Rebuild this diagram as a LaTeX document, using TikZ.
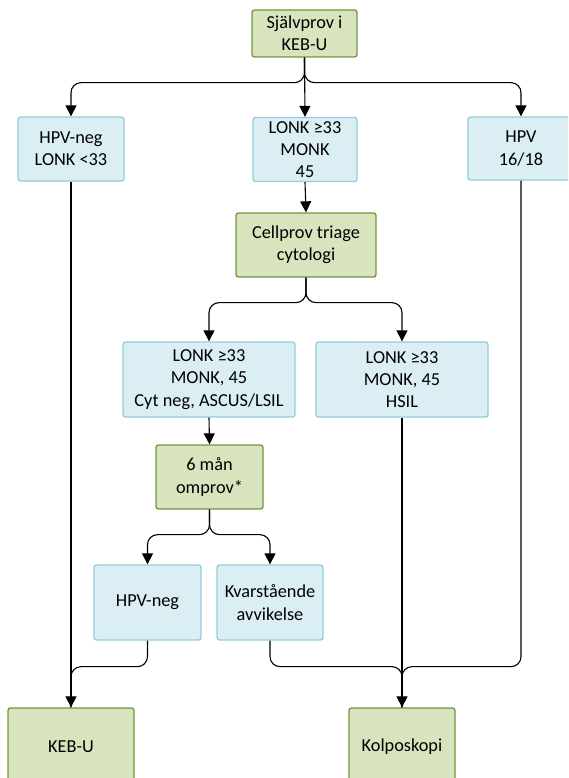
\documentclass[tikz,border=0pt]{standalone}
\usepackage{fontspec}
\setmainfont{Carlito}
\usetikzlibrary{arrows.meta}
\definecolor{bluefill}{HTML}{DBEEF4}
\definecolor{blueline}{HTML}{92CDDC}
\definecolor{greenfill}{HTML}{D7E4BD}
\definecolor{greenline}{HTML}{77933C}
\tikzset{
  box/.style={rounded corners=2.5pt, line width=1.3pt, align=center,
    inner sep=0pt, font=\fontsize{18.3}{22.3}\selectfont, text=black},
  bluebox/.style={box, fill=bluefill, draw=blueline},
  greenbox/.style={box, fill=greenfill, draw=greenline},
  conn/.style={line width=1.1pt, rounded corners=10pt,
    -{Triangle[width=11pt,length=11pt]}},
  plain/.style={line width=1.1pt, rounded corners=10pt}
}
\begin{document}
\begin{tikzpicture}[x=1pt,y=-1pt]
\useasboundingbox (0,0) rectangle (568,778);
\begin{scope}
\clip (0,0) rectangle (568,778);
% boxes
\node[greenbox, minimum width=105pt, minimum height=47pt] (top) at (304.5,33.5) {Självprov i\\KEB-U};
\node[bluebox, minimum width=106pt, minimum height=64pt] (hpvneg) at (71,149) {HPV-neg\\LONK <33};
\node[bluebox, minimum width=104pt, minimum height=64pt] (lonk) at (305,149.5) {LONK ≥33\\MONK\\45};
\node[bluebox, minimum width=106pt, minimum height=63pt] (hpvhr) at (521,148.5) {HPV\\16/18};
\node[greenbox, minimum width=140pt, minimum height=64pt] (cell) at (306,245) {Cellprov triage\\cytologi};
\node[bluebox, minimum width=172pt, minimum height=75pt] (cytneg) at (209,379.5) {LONK ≥33\\MONK, 45\\Cyt neg, ASCUS/LSIL};
\node[bluebox, minimum width=172pt, minimum height=75pt] (hsil) at (402,379.5) {LONK ≥33\\MONK, 45\\HSIL};
\node[greenbox, minimum width=107pt, minimum height=64pt] (omprov) at (209.5,477) {6 mån\\omprov*};
\node[bluebox, minimum width=107pt, minimum height=75pt] (hpvneg2) at (147.5,602.5) {HPV-neg};
\node[bluebox, minimum width=106pt, minimum height=75pt] (kvar) at (270,602.5) {Kvarstående\\avvikelse};
\node[greenbox, minimum width=126pt, minimum height=78pt] (kebu) at (71,747) {KEB-U};
\node[greenbox, minimum width=106pt, minimum height=78pt] (kolpo) at (402,747) {Kolposkopi};
\end{scope}
% connectors from the self-sample
\draw[conn] (top.south) -- ++(0,25) -| (hpvneg.north);
\draw[conn] (top.south) -- (lonk.north);
\draw[conn] (top.south) -- ++(0,25) -| (hpvhr.north);
\draw[conn] (lonk.south) -- (cell.north);
% triage branches
\draw[conn] (cell.south) -- ++(0,25) -| (cytneg.north);
\draw[conn] (cell.south) -- ++(0,25) -| (hsil.north);
\draw[conn] (cytneg.south) -- (omprov.north);
% re-test branches
\draw[conn] (omprov.south) -- ++(0,25) -| (hpvneg2.north);
\draw[conn] (omprov.south) -- ++(0,25) -| (kvar.north);
% outcomes
\draw[conn] (hpvneg.south) -- (kebu.north);
\draw[plain] (hpvneg2.south) -- ++(0,26) -| (kebu.north);
\draw[conn] (hsil.south) -- (kolpo.north);
\draw[plain] (kvar.south) -- ++(0,26) -| (kolpo.north);
\draw[plain] (hpvhr.south) -- ++(0,486) -| (kolpo.north);
\end{tikzpicture}
\end{document}
